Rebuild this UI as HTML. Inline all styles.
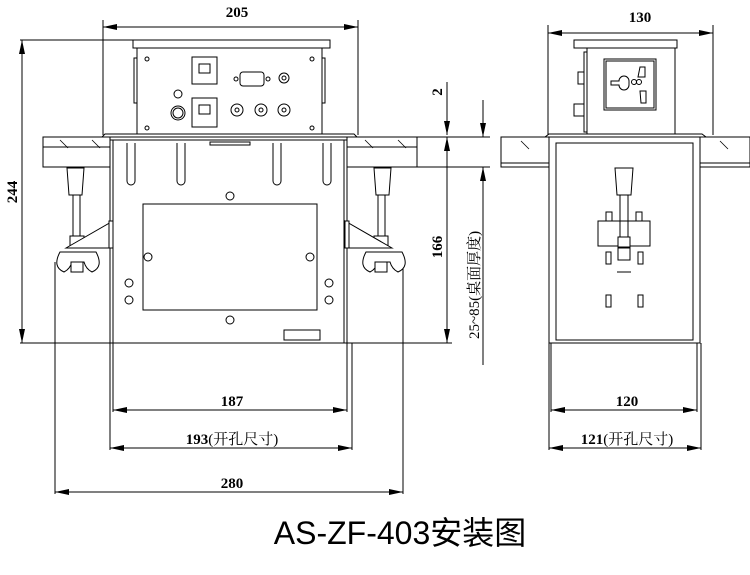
<!DOCTYPE html>
<html><head><meta charset="utf-8"><style>
html,body{margin:0;padding:0;background:#fff;}
svg{display:block;background:#fff;}
.s rect,.s path,.s circle{fill:#fff !important;}
.s line{fill:none;}
.d{font-family:"Liberation Serif","Noto Serif CJK SC",serif;font-weight:bold;font-size:15px;fill:#000;}
.c{font-family:"Liberation Serif","Noto Serif CJK SC",serif;font-size:15px;fill:#000;}
</style></head><body>
<svg width="750" height="575" viewBox="0 0 750 575" xmlns="http://www.w3.org/2000/svg">
<defs>
<marker id="a" markerWidth="14" markerHeight="6" refX="14" refY="3" orient="auto-start-reverse" markerUnits="userSpaceOnUse"><path d="M0,0 L14,3 L0,6 z" fill="#000"/></marker>
</defs>
<rect x="0" y="0" width="750" height="575" fill="#fff"/>
<g class="s" fill="#fff" stroke="#000" stroke-width="1">
<line x1="103" y1="27" x2="358" y2="27" marker-start="url(#a)" marker-end="url(#a)"/>
<line x1="103" y1="20" x2="103" y2="135"/><line x1="358" y1="20" x2="358" y2="135"/>
<line x1="548" y1="33" x2="713" y2="33" marker-start="url(#a)" marker-end="url(#a)"/>
<line x1="548" y1="25" x2="548" y2="135"/><line x1="713" y1="25" x2="713" y2="135"/>
<line x1="22" y1="40" x2="22" y2="343" marker-start="url(#a)" marker-end="url(#a)"/>
<line x1="20" y1="40" x2="133" y2="40"/><line x1="20" y1="343" x2="452" y2="343"/>
<line x1="447" y1="82" x2="447" y2="135" marker-end="url(#a)"/>
<line x1="447" y1="137" x2="447" y2="343" marker-start="url(#a)" marker-end="url(#a)"/>
<line x1="417" y1="137" x2="490" y2="137"/><line x1="417" y1="167" x2="490" y2="167"/>
<line x1="483" y1="100" x2="483" y2="137" marker-end="url(#a)"/>
<line x1="483" y1="167" x2="483" y2="365" marker-start="url(#a)"/>
<line x1="113" y1="343" x2="113" y2="412"/><line x1="347" y1="343" x2="347" y2="412"/>
<line x1="113" y1="410" x2="347" y2="410" marker-start="url(#a)" marker-end="url(#a)"/>
<line x1="110" y1="343" x2="110" y2="450"/><line x1="352" y1="343" x2="352" y2="450"/>
<line x1="110" y1="448" x2="352" y2="448" marker-start="url(#a)" marker-end="url(#a)"/>
<line x1="55" y1="262" x2="55" y2="494"/><line x1="403" y1="262" x2="403" y2="494"/>
<line x1="55" y1="492" x2="403" y2="492" marker-start="url(#a)" marker-end="url(#a)"/>
<line x1="551" y1="343" x2="551" y2="412"/><line x1="697" y1="343" x2="697" y2="412"/>
<line x1="551" y1="410" x2="697" y2="410" marker-start="url(#a)" marker-end="url(#a)"/>
<line x1="549" y1="343" x2="549" y2="450"/><line x1="701" y1="343" x2="701" y2="450"/>
<line x1="549" y1="448" x2="701" y2="448" marker-start="url(#a)" marker-end="url(#a)"/>

<rect x="133" y="40" width="197" height="8"/>
<rect x="137" y="48" width="185" height="87"/>
<rect x="134" y="58" width="3" height="45"/><rect x="322" y="58" width="3" height="45"/>
<circle cx="147" cy="59" r="2"/><circle cx="312" cy="59" r="2"/><circle cx="147" cy="128" r="2"/><circle cx="312" cy="128" r="2"/>
<rect x="192" y="57" width="25" height="27"/><rect x="199" y="64" width="11" height="9"/>
<rect x="192" y="98" width="25" height="29"/><rect x="199" y="105" width="11" height="9"/>
<rect x="240" y="72" width="24" height="14" rx="3"/><circle cx="236" cy="79" r="2"/><circle cx="268" cy="79" r="2"/>
<circle cx="284" cy="78" r="5"/><circle cx="284" cy="78" r="2"/>
<circle cx="178" cy="94" r="4"/><circle cx="178" cy="113" r="7"/><circle cx="178" cy="113" r="5"/>
<circle cx="237" cy="110" r="6"/><circle cx="237" cy="110" r="2"/>
<circle cx="261" cy="110" r="6"/><circle cx="261" cy="110" r="2"/>
<circle cx="284" cy="110" r="6"/><circle cx="284" cy="110" r="2"/>
<path d="M102,137 L105,134 L354,134 L357,137 Z"/>
<rect x="43" y="137" width="70" height="30"/><line x1="43" y1="147" x2="113" y2="147"/>
<rect x="347" y="137" width="70" height="30"/><line x1="347" y1="147" x2="417" y2="147"/>
<path d="M67,168 h17 l-2,27 h-13 z"/><rect x="73" y="195" width="7" height="42"/>
<rect x="70" y="236" width="14" height="11"/>
<path d="M60,252 q-8,15 4,20 q6,-3 8,-10 h12 q2,7 8,10 q12,-5 4,-20 z"/>
<rect x="71" y="262" width="12" height="10"/>
<path d="M374,168 h17 l-2,27 h-13 z"/><rect x="378" y="195" width="7" height="42"/>
<rect x="374" y="236" width="14" height="11"/>
<path d="M366,252 q-8,15 4,20 q6,-3 8,-10 h12 q2,7 8,10 q12,-5 4,-20 z"/>
<rect x="375" y="262" width="12" height="10"/>
<rect x="110" y="137" width="237" height="206"/>
<line x1="113" y1="140" x2="113" y2="343"/><line x1="344" y1="140" x2="344" y2="343"/>
<line x1="110" y1="140" x2="347" y2="140"/>
<path d="M66,248 L113,221 L113,248 Z"/><rect x="109" y="221" width="4" height="27"/>
<path d="M392,248 L345,221 L345,248 Z"/><rect x="345" y="221" width="4" height="27"/>
<path d="M127,143 v38 a4,4 0 0 0 8,0 v-38"/><path d="M177,143 v38 a4,4 0 0 0 8,0 v-38"/>
<path d="M273,143 v38 a4,4 0 0 0 8,0 v-38"/><path d="M323,143 v38 a4,4 0 0 0 8,0 v-38"/>
<rect x="210" y="142" width="40" height="3"/>
<rect x="143" y="204" width="174" height="106"/>
<circle cx="230" cy="196" r="4"/><circle cx="148" cy="257" r="4"/><circle cx="310" cy="257" r="4"/><circle cx="230" cy="320" r="4"/>
<circle cx="129" cy="283" r="4"/><circle cx="129" cy="300" r="4"/><circle cx="329" cy="283" r="4"/><circle cx="329" cy="300" r="4"/>
<rect x="284" y="330" width="36" height="10"/>

<rect x="574" y="40" width="103" height="8"/>
<rect x="587" y="48" width="88" height="87"/>
<rect x="584" y="52" width="3" height="80"/>
<rect x="578" y="72" width="6" height="12"/><rect x="574" y="104" width="10" height="12"/>
<rect x="604" y="59" width="52" height="51"/><rect x="606" y="61" width="48" height="47"/>
<path d="M611,81 h8 a5,5 0 0 1 10,0 v4 a5,5 0 0 1 -10,0 h-8 z"/>
<circle cx="634" cy="82" r="2.5"/><circle cx="639" cy="82" r="2.5"/>
<path d="M640,67 h5 v10 h-7 z M640,91 h6 v12 h-5 z"/>
<path d="M545,137 L549,134 L702,134 L706,137 Z"/>
<rect x="501" y="137" width="49" height="30"/><line x1="501" y1="163" x2="550" y2="163"/>
<rect x="700" y="137" width="50" height="30"/><line x1="700" y1="163" x2="750" y2="163"/>
<rect x="549" y="137" width="151" height="206"/>
<rect x="556" y="143" width="137" height="197"/>
<path d="M615,168 h18 l-2,27 h-14 z"/><rect x="620" y="195" width="8" height="42"/>
<rect x="598" y="221" width="52" height="25"/>
<rect x="606" y="212" width="6" height="9"/><rect x="636" y="212" width="6" height="9"/>
<rect x="620" y="221" width="8" height="16"/>
<rect x="618" y="237" width="12" height="10"/><rect x="618" y="248" width="12" height="12"/>
<line x1="617" y1="272" x2="631" y2="272"/>
<rect x="606" y="252" width="5" height="12"/><rect x="638" y="252" width="5" height="12"/>
<rect x="606" y="295" width="5" height="12"/><rect x="638" y="295" width="5" height="12"/>
</g>
<g stroke="#000" stroke-width="0.8">
<line x1="60" y1="140" x2="68" y2="148"/><line x1="92" y1="140" x2="100" y2="148"/>
<line x1="365" y1="140" x2="373" y2="148"/><line x1="398" y1="140" x2="406" y2="148"/>
<line x1="521" y1="141" x2="529" y2="149"/><line x1="720" y1="141" x2="728" y2="149"/>
</g>
<text class="d" x="237" y="17" text-anchor="middle">205</text>
<text class="d" x="640" y="22" text-anchor="middle">130</text>
<text class="d" transform="translate(17,192) rotate(-90)" text-anchor="middle">244</text>
<text class="d" transform="translate(442,92) rotate(-90)" text-anchor="middle">2</text>
<text class="d" transform="translate(442,247) rotate(-90)" text-anchor="middle">166</text>
<text class="c" transform="translate(479,285) rotate(-90)" text-anchor="middle">25~85(桌面厚度)</text>
<text class="d" x="232" y="406" text-anchor="middle">187</text>
<text class="c" x="232" y="444" text-anchor="middle"><tspan font-weight="bold">193</tspan>(开孔尺寸)</text>
<text class="d" x="232" y="488" text-anchor="middle">280</text>
<text class="d" x="627" y="406" text-anchor="middle">120</text>
<text class="c" x="627" y="444" text-anchor="middle"><tspan font-weight="bold">121</tspan>(开孔尺寸)</text>
<text x="400" y="544" text-anchor="middle" font-family="'Liberation Sans','Noto Sans CJK SC',sans-serif" font-size="32">AS-ZF-403安装图</text>
</svg>
</body></html>
